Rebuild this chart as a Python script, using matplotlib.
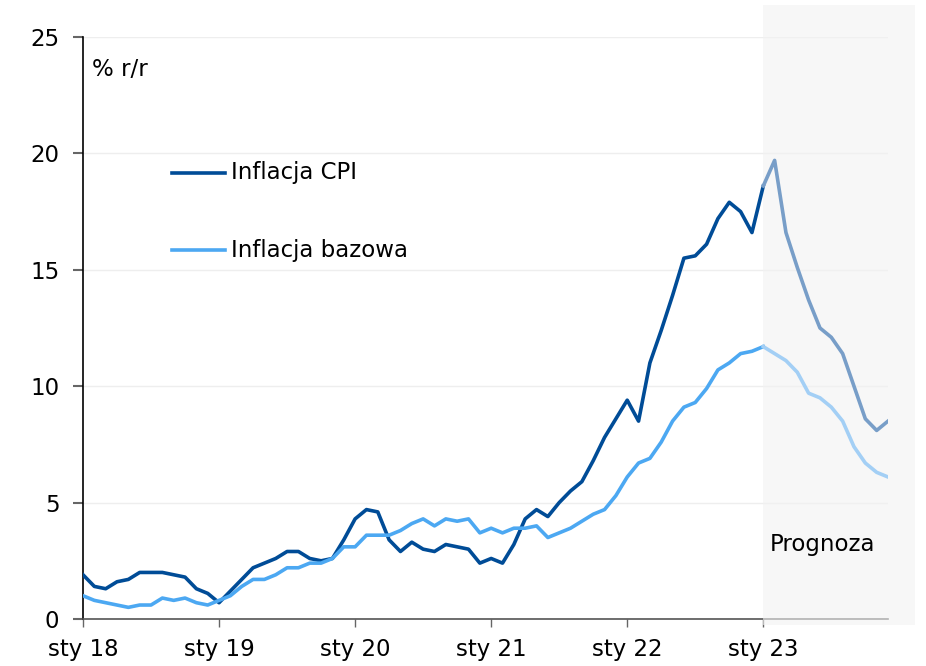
import matplotlib
matplotlib.use("Agg")
import matplotlib.pyplot as plt
from matplotlib.patches import Rectangle

plt.rcParams['font.family'] = ['DejaVu Sans']

# miesiące od sty 2018 do gru 2023
cpi = [1.9, 1.4, 1.3, 1.6, 1.7, 2.0, 2.0, 2.0, 1.9, 1.8, 1.3, 1.1,
       0.7, 1.2, 1.7, 2.2, 2.4, 2.6, 2.9, 2.9, 2.6, 2.5, 2.6, 3.4,
       4.3, 4.7, 4.6, 3.4, 2.9, 3.3, 3.0, 2.9, 3.2, 3.1, 3.0, 2.4,
       2.6, 2.4, 3.2, 4.3, 4.7, 4.4, 5.0, 5.5, 5.9, 6.8, 7.8, 8.6,
       9.4, 8.5, 11.0, 12.4, 13.9, 15.5, 15.6, 16.1, 17.2, 17.9, 17.5, 16.6,
       18.6]
cpi_prognoza = [18.6, 19.7, 16.6, 15.1, 13.7, 12.5, 12.1, 11.4, 10.0, 8.6, 8.1, 8.5]

bazowa = [1.0, 0.8, 0.7, 0.6, 0.5, 0.6, 0.6, 0.9, 0.8, 0.9, 0.7, 0.6,
          0.8, 1.0, 1.4, 1.7, 1.7, 1.9, 2.2, 2.2, 2.4, 2.4, 2.6, 3.1,
          3.1, 3.6, 3.6, 3.6, 3.8, 4.1, 4.3, 4.0, 4.3, 4.2, 4.3, 3.7,
          3.9, 3.7, 3.9, 3.9, 4.0, 3.5, 3.7, 3.9, 4.2, 4.5, 4.7, 5.3,
          6.1, 6.7, 6.9, 7.6, 8.5, 9.1, 9.3, 9.9, 10.7, 11.0, 11.4, 11.5,
          11.7]
bazowa_prognoza = [11.7, 11.4, 11.1, 10.6, 9.7, 9.5, 9.1, 8.5, 7.4, 6.7, 6.3, 6.1]

xticks = [0, 12, 24, 36, 48, 60]
xtick_labels = ['sty 18', 'sty 19', 'sty 20', 'sty 21', 'sty 22', 'sty 23']
start_prognozy = 60

fig = plt.figure(figsize=(9.26, 6.66), dpi=100)
ax = fig.add_axes([83/926, 47/666, (888-83)/926, (619-37)/666])

x_hist = list(range(len(cpi)))
x_prog = list(range(start_prognozy, start_prognozy + len(cpi_prognoza)))

# zacieniony obszar prognozy (wystaje poza osie do ok. 915 px)
px_na_miesiac = (888 - 83) / 71
szer = (915 - 763) / px_na_miesiac
shade = Rectangle((start_prognozy, -0.011), szer, 1.066, transform=ax.get_xaxis_transform(),
                  facecolor='#f2f2f2', alpha=0.6, edgecolor='none', zorder=2.6, clip_on=False)
ax.add_patch(shade)

ax.plot(x_hist, cpi, color='#004c97', lw=2.6, zorder=3)
ax.plot(x_hist, bazowa, color='#4ca8f2', lw=2.6, zorder=3)
ax.plot(x_prog, cpi_prognoza, color='#789ec8', lw=2.6, zorder=3)
ax.plot(x_prog, bazowa_prognoza, color='#a3cff5', lw=2.6, zorder=3)

ax.set_xlim(0, 71)
ax.set_ylim(0, 25)
ax.set_yticks([0, 5, 10, 15, 20, 25])
ax.set_xticks(xticks)
ax.set_xticklabels(xtick_labels)
ax.grid(axis='y', color='#eeeeee', lw=1)
ax.set_axisbelow(True)

for s in ['top', 'right']:
    ax.spines[s].set_visible(False)
ax.spines['left'].set_color('black')
ax.spines['left'].set_linewidth(1.2)
ax.spines['bottom'].set_color('#555555')
ax.spines['bottom'].set_linewidth(1.2)
ax.spines['bottom'].set_zorder(2.5)
ax.tick_params(axis='y', length=7, width=1.5, color='#666666', labelsize=16.5, pad=10)
ax.tick_params(axis='x', length=6, width=1, color='#666666', labelsize=16.5, pad=8)

fig.text(92/926, (666-70)/666, '% r/r', fontsize=16.5, va='center', ha='left')

# legenda
leg = [('Inflacja CPI', '#004c97', 173), ('Inflacja bazowa', '#4ca8f2', 250)]
for label, col, ypx in leg:
    yy = 666 - ypx
    fig.add_artist(plt.Line2D([172/926, 225/926], [yy/666, yy/666], color=col, lw=2.6))
    fig.text(231/926, yy/666, label, fontsize=16.5, va='center', ha='left')

fig.text(823/926, (666-544)/666, 'Prognoza', fontsize=16.5, va='center', ha='center')

fig.savefig('out.png', dpi=100)
